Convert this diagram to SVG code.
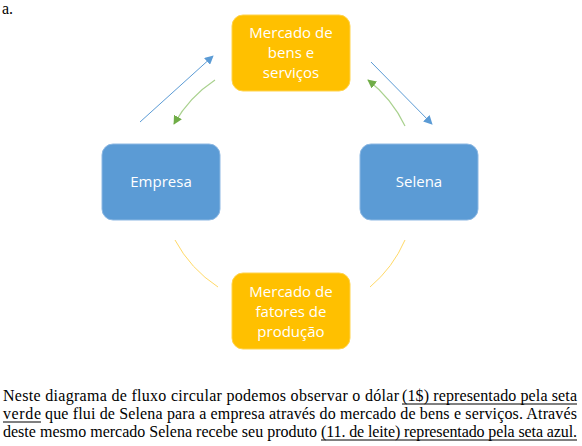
<svg xmlns="http://www.w3.org/2000/svg" width="582" height="446" viewBox="0 0 582 446">
<defs>
<marker id="ab" viewBox="0 0 10 10" refX="9" refY="5" markerWidth="9" markerHeight="9" markerUnits="userSpaceOnUse" orient="auto"><path d="M0,0 L10,5 L0,10 z" fill="#5B9BD5"/></marker>
<marker id="ag" viewBox="0 0 10 10" refX="9" refY="5" markerWidth="9" markerHeight="9" markerUnits="userSpaceOnUse" orient="auto"><path d="M0,0 L10,5 L0,10 z" fill="#70AD47"/></marker>
</defs>
<style>
.or{fill:#FFC000;stroke:#FFD34D;stroke-width:1}
.bl{fill:#5B9BD5;stroke:#8DB8E3;stroke-width:1}
.bt{font-family:"Open Sans","Noto Sans",sans-serif;font-size:15px;fill:#fff;text-anchor:middle}
.para{font-family:"Liberation Serif","Times New Roman",serif;font-size:16px;fill:#000}
.blue{stroke:#5B9BD5;stroke-width:1;fill:none}
.green{stroke:#A9D18E;stroke-width:1.2;fill:none}
.yel{stroke:#FFD966;stroke-width:1;fill:none}
.ul{stroke:#000;stroke-width:1}
</style>
<rect width="582" height="446" fill="#fff"/>
<text x="2" y="14" class="para" font-size="13px">a.</text>
<g id="connectors">
<line class="blue" x1="140" y1="122" x2="213" y2="56" marker-end="url(#ab)"/>
<line class="blue" x1="371" y1="62" x2="432" y2="124" marker-end="url(#ab)"/>
<path class="green" d="M215,80 A128,128 0 0 0 174,124" marker-end="url(#ag)"/>
<path class="green" d="M405,126 A128,128 0 0 0 368,80" marker-end="url(#ag)"/>
<path class="yel" d="M175,240 A128,128 0 0 0 218,287"/>
<path class="yel" d="M405,240 A128,128 0 0 1 370,287"/>
</g>
<g id="mercado-bens">
<rect class="or" x="232" y="15" width="118" height="76" rx="11"/>
<text class="bt" x="291" y="38">Mercado de</text>
<text class="bt" x="291" y="58">bens e</text>
<text class="bt" x="291" y="78">serviços</text>
</g>
<g id="empresa">
<rect class="bl" x="102" y="144" width="118" height="76" rx="11"/>
<text class="bt" x="161" y="187">Empresa</text>
</g>
<g id="selena">
<rect class="bl" x="360" y="144" width="118" height="76" rx="11"/>
<text class="bt" x="419" y="187">Selena</text>
</g>
<g id="mercado-fatores">
<rect class="or" x="232" y="273" width="118" height="76" rx="11"/>
<text class="bt" x="291" y="297">Mercado de</text>
<text class="bt" x="291" y="317">fatores de</text>
<text class="bt" x="291" y="337">produção</text>
</g>
<g id="paragraph">
<text class="para" x="3" y="401" textLength="396" lengthAdjust="spacing">Neste diagrama de fluxo circular podemos observar o dólar</text>
<text class="para" x="402" y="401" textLength="175" lengthAdjust="spacing">(1$) representado pela seta</text>
<line class="ul" x1="402" y1="404" x2="577" y2="404"/>
<text class="para" x="3" y="419" textLength="38" lengthAdjust="spacing">verde</text>
<line class="ul" x1="3" y1="422" x2="41" y2="422"/>
<text class="para" x="45" y="419" textLength="532" lengthAdjust="spacing">que flui de Selena para a empresa através do mercado de bens e serviços. Através</text>
<text class="para" x="3" y="437" textLength="314" lengthAdjust="spacing">deste mesmo mercado Selena recebe seu produto</text>
<text class="para" x="321" y="437" textLength="256" lengthAdjust="spacing">(11. de leite) representado pela seta azul.</text>
<line class="ul" x1="321" y1="440" x2="577" y2="440"/>
</g>
</svg>
